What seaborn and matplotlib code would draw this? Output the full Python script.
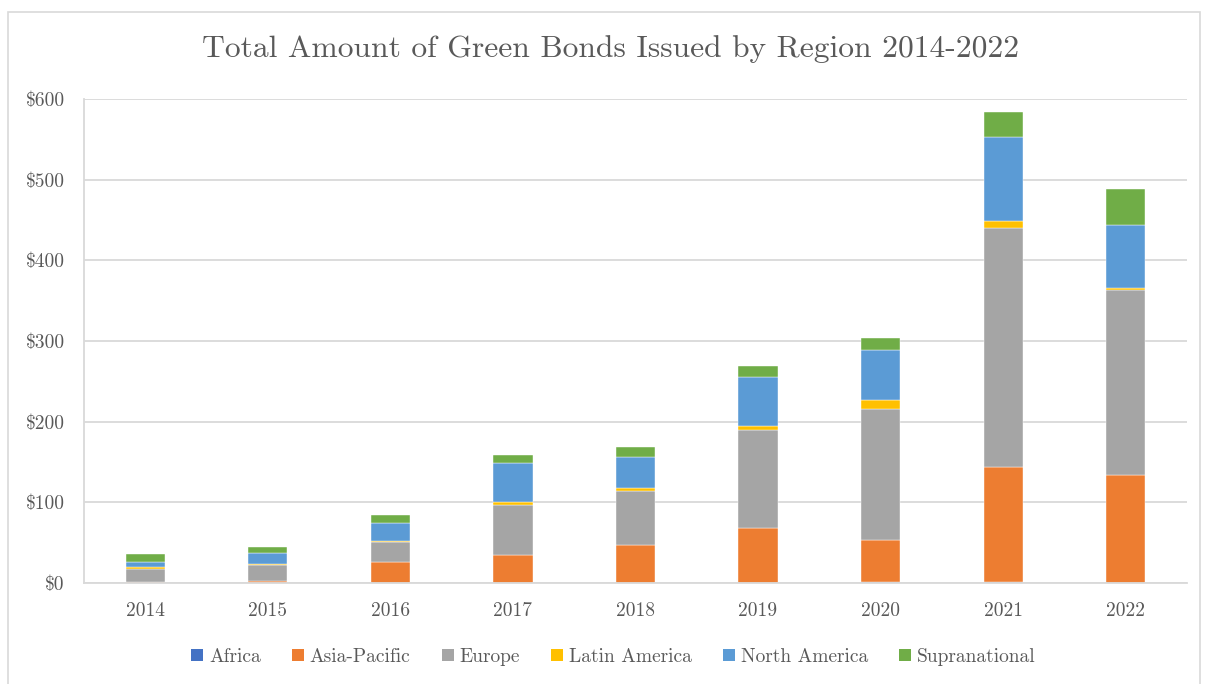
import matplotlib
matplotlib.use("Agg")
import matplotlib.pyplot as plt
from matplotlib.patches import Patch, Rectangle
from matplotlib.ticker import FuncFormatter, MultipleLocator
import numpy as np
import pandas as pd
import seaborn as sns

# Green bond issuance by region, USD billions
years = ["2014", "2015", "2016", "2017", "2018", "2019", "2020", "2021", "2022"]
africa = [0.3, 0.2, 0.3, 0.5, 0.4, 0.6, 0.8, 0.9, 0.5]
asia_pacific = [0.5, 2.0, 26.0, 34.7, 47.0, 67.0, 52.5, 143.0, 133.0]
europe = [17.0, 19.5, 25.0, 61.8, 67.0, 121.5, 163.0, 296.0, 229.5]
latin_america = [1.5, 2.0, 1.3, 3.5, 3.0, 5.0, 11.0, 9.0, 3.0]
north_america = [6.6, 13.0, 21.5, 48.0, 39.0, 61.6, 61.0, 103.5, 77.7]
supranational = [9.5, 8.2, 10.7, 10.3, 12.0, 13.3, 15.0, 31.7, 45.0]

regions = ["Africa", "Asia-Pacific", "Europe", "Latin America",
           "North America", "Supranational"]
series = [africa, asia_pacific, europe, latin_america, north_america, supranational]
colors = ["#4472C4", "#ED7D31", "#A5A5A5", "#FFC000", "#5B9BD5", "#70AD47"]

df = pd.DataFrame({"year": years})
for name, vals in zip(regions, series):
    df[name] = vals

sns.set_theme(style="white")
plt.rcParams["font.family"] = ["cmr10", "DejaVu Serif"]
plt.rcParams["axes.unicode_minus"] = False
text_color = "#595959"
grid_color = "#D9D9D9"

fig = plt.figure(figsize=(12.05, 6.84), dpi=100)
fig.patch.set_facecolor("white")
fig.patches.append(Rectangle((8 / 1205, -0.01), 1192 / 1205, 1 - 12 / 684 + 0.01,
                             transform=fig.transFigure, fill=False,
                             edgecolor=grid_color, linewidth=1.2))

ax = fig.add_axes([84 / 1205, 101 / 684, 1103 / 1205, 484 / 684])

bottom = np.zeros(len(years))
for name, col in zip(regions, colors):
    vals = df[name].to_numpy()
    sns.barplot(x=df["year"], y=vals, bottom=bottom, color=col, width=0.32,
                edgecolor="white", linewidth=0.3, saturation=1, ax=ax)
    bottom = bottom + vals

ax.set_ylim(0, 600)
ax.set_xlim(-0.5, len(years) - 0.5)
ax.yaxis.set_major_locator(MultipleLocator(100))
ax.yaxis.set_major_formatter(FuncFormatter(lambda v, p: f"${v:.0f}"))
ax.set_xlabel("")
ax.set_ylabel("")
ax.grid(axis="y", color=grid_color, linewidth=1.3)
ax.set_axisbelow(True)
for side in ["top", "right"]:
    ax.spines[side].set_visible(False)
for side in ["left", "bottom"]:
    ax.spines[side].set_color(grid_color)
    ax.spines[side].set_linewidth(1.3)
ax.tick_params(axis="both", length=0, labelsize=14, colors=text_color)
ax.tick_params(axis="y", pad=14)
ax.tick_params(axis="x", pad=14)

fig.text(0.507, 1 - 49 / 684, "Total Amount of Green Bonds Issued by Region 2014-2022",
         ha="center", va="center", fontsize=22.7, color=text_color)

handles = [Patch(facecolor=c, edgecolor="none") for c in colors]
fig.legend(handles, regions, loc="center", bbox_to_anchor=(0.509, 1 - 657 / 684),
           ncol=6, frameon=False, fontsize=14, labelcolor=text_color,
           handlelength=0.62, handleheight=0.62, handletextpad=0.3,
           columnspacing=1.6)

fig.savefig("out.png", dpi=100, facecolor="white")
